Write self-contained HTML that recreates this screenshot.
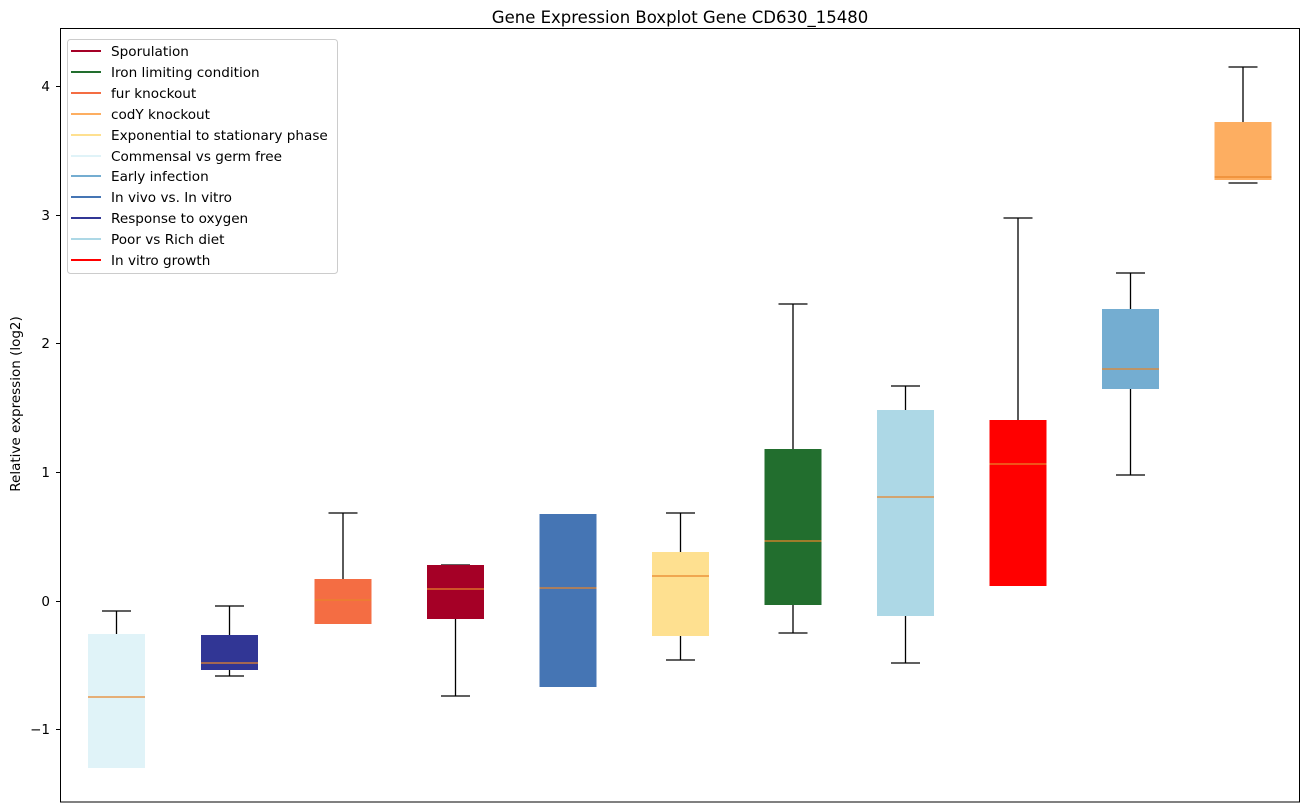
<!DOCTYPE html>
<html><head><style>body{margin:0;background:#fff}svg{display:block}text{font-family:"DejaVu Sans","Liberation Sans",sans-serif}</style></head><body>
<svg width="1309" height="812" viewBox="0 0 1309 812" xmlns="http://www.w3.org/2000/svg">
<rect width="1309" height="812" fill="#fff"/>
<text x="680" y="23" font-size="16.5" text-anchor="middle" fill="#000">Gene Expression Boxplot Gene CD630_15480</text>
<text transform="translate(20,404) rotate(-90)" font-size="13.5" text-anchor="middle">Relative expression (log2)</text>
<g font-size="13.5" text-anchor="end" fill="#000">
<text x="50" y="91">4</text><text x="50" y="220">3</text><text x="50" y="348">2</text><text x="50" y="477">1</text><text x="50" y="606">0</text><text x="50" y="734">−1</text>
</g>
<g stroke="#000" stroke-width="1">
<line x1="56" y1="86.5" x2="60" y2="86.5"/><line x1="56" y1="215.5" x2="60" y2="215.5"/><line x1="56" y1="343.5" x2="60" y2="343.5"/><line x1="56" y1="472.5" x2="60" y2="472.5"/><line x1="56" y1="601.5" x2="60" y2="601.5"/><line x1="56" y1="729.5" x2="60" y2="729.5"/>
</g>
<g id="boxes" stroke-width="1.3">
<g stroke="#000"><line x1="116.5" y1="611" x2="116.5" y2="634"/><line x1="102" y1="611" x2="131" y2="611"/></g>
<rect x="88" y="634" width="57" height="134" fill="#e0f3f8"/><line x1="88" y1="697" x2="145" y2="697" stroke="#e8852a"/>

<g stroke="#000"><line x1="229.5" y1="606" x2="229.5" y2="635"/><line x1="215" y1="606" x2="244" y2="606"/><line x1="215" y1="676" x2="244" y2="676"/><line x1="229.5" y1="670" x2="229.5" y2="676"/></g>
<rect x="201" y="635" width="57" height="35" fill="#313695"/><line x1="201" y1="663" x2="258" y2="663" stroke="#e8852a"/>

<g stroke="#000"><line x1="343" y1="513" x2="343" y2="579"/><line x1="328.5" y1="513" x2="357.5" y2="513"/></g>
<rect x="314.5" y="579" width="57" height="45" fill="#f46d43"/><line x1="314.5" y1="600" x2="371.5" y2="600" stroke="#e8852a"/>

<g stroke="#000"><line x1="455.5" y1="619" x2="455.5" y2="696"/><line x1="441" y1="696" x2="470" y2="696"/><line x1="441" y1="565" x2="470" y2="565"/></g>
<rect x="427" y="565" width="57" height="54" fill="#a50026"/><line x1="427" y1="589" x2="484" y2="589" stroke="#e8852a"/>

<rect x="539.5" y="514" width="57" height="173" fill="#4575b4"/><line x1="539.5" y1="588" x2="596.5" y2="588" stroke="#e8852a"/>

<g stroke="#000"><line x1="680.5" y1="513" x2="680.5" y2="552"/><line x1="666" y1="513" x2="695" y2="513"/><line x1="680.5" y1="636" x2="680.5" y2="660"/><line x1="666" y1="660" x2="695" y2="660"/></g>
<rect x="652" y="552" width="57" height="84" fill="#fee090"/><line x1="652" y1="576" x2="709" y2="576" stroke="#e8852a"/>

<g stroke="#000"><line x1="793" y1="304" x2="793" y2="449"/><line x1="778.5" y1="304" x2="807.5" y2="304"/><line x1="793" y1="605" x2="793" y2="633"/><line x1="778.5" y1="633" x2="807.5" y2="633"/></g>
<rect x="764.5" y="449" width="57" height="156" fill="#226e2e"/><line x1="764.5" y1="541" x2="821.5" y2="541" stroke="#e8852a"/>

<g stroke="#000"><line x1="905.5" y1="386" x2="905.5" y2="410"/><line x1="891" y1="386" x2="920" y2="386"/><line x1="905.5" y1="616" x2="905.5" y2="663"/><line x1="891" y1="663" x2="920" y2="663"/></g>
<rect x="877" y="410" width="57" height="206" fill="#add8e6"/><line x1="877" y1="497" x2="934" y2="497" stroke="#e8852a"/>

<g stroke="#000"><line x1="1018" y1="218" x2="1018" y2="420"/><line x1="1003.5" y1="218" x2="1032.5" y2="218"/></g>
<rect x="989.5" y="420" width="57" height="166" fill="#ff0000"/><line x1="989.5" y1="464" x2="1046.5" y2="464" stroke="#e8852a"/>

<g stroke="#000"><line x1="1130.5" y1="273" x2="1130.5" y2="309"/><line x1="1116" y1="273" x2="1145" y2="273"/><line x1="1130.5" y1="389" x2="1130.5" y2="475"/><line x1="1116" y1="475" x2="1145" y2="475"/></g>
<rect x="1102" y="309" width="57" height="80" fill="#74add1"/><line x1="1102" y1="369" x2="1159" y2="369" stroke="#e8852a"/>

<g stroke="#000"><line x1="1243" y1="67" x2="1243" y2="122"/><line x1="1228.5" y1="67" x2="1257.5" y2="67"/><line x1="1228.5" y1="183" x2="1257.5" y2="183"/></g>
<rect x="1214.5" y="122" width="57" height="58" fill="#fdae61"/><line x1="1214.5" y1="177" x2="1271.5" y2="177" stroke="#e8852a"/>
</g>
<rect x="60.5" y="28.5" width="1239" height="773.5" fill="none" stroke="#000" stroke-width="1"/>
<rect x="67.5" y="39.5" width="270" height="234" rx="3" fill="#fff" fill-opacity="0.8" stroke="#ccc"/>
<g stroke-width="2">
<line x1="71" y1="51" x2="101" y2="51" stroke="#a50026"/>
<line x1="71" y1="72" x2="101" y2="72" stroke="#226e2e"/>
<line x1="71" y1="93" x2="101" y2="93" stroke="#f46d43"/>
<line x1="71" y1="114" x2="101" y2="114" stroke="#fdae61"/>
<line x1="71" y1="135" x2="101" y2="135" stroke="#fee090"/>
<line x1="71" y1="156" x2="101" y2="156" stroke="#e0f3f8"/>
<line x1="71" y1="176" x2="101" y2="176" stroke="#74add1"/>
<line x1="71" y1="197" x2="101" y2="197" stroke="#4575b4"/>
<line x1="71" y1="218" x2="101" y2="218" stroke="#313695"/>
<line x1="71" y1="239" x2="101" y2="239" stroke="#add8e6"/>
<line x1="71" y1="260" x2="101" y2="260" stroke="#ff0000"/>
</g>
<g font-size="13.6" fill="#000">
<text x="111" y="56">Sporulation</text>
<text x="111" y="77">Iron limiting condition</text>
<text x="111" y="98">fur knockout</text>
<text x="111" y="119">codY knockout</text>
<text x="111" y="140">Exponential to stationary phase</text>
<text x="111" y="161">Commensal vs germ free</text>
<text x="111" y="181">Early infection</text>
<text x="111" y="202">In vivo vs. In vitro</text>
<text x="111" y="223">Response to oxygen</text>
<text x="111" y="244">Poor vs Rich diet</text>
<text x="111" y="265">In vitro growth</text>
</g>
</svg>
</body></html>
